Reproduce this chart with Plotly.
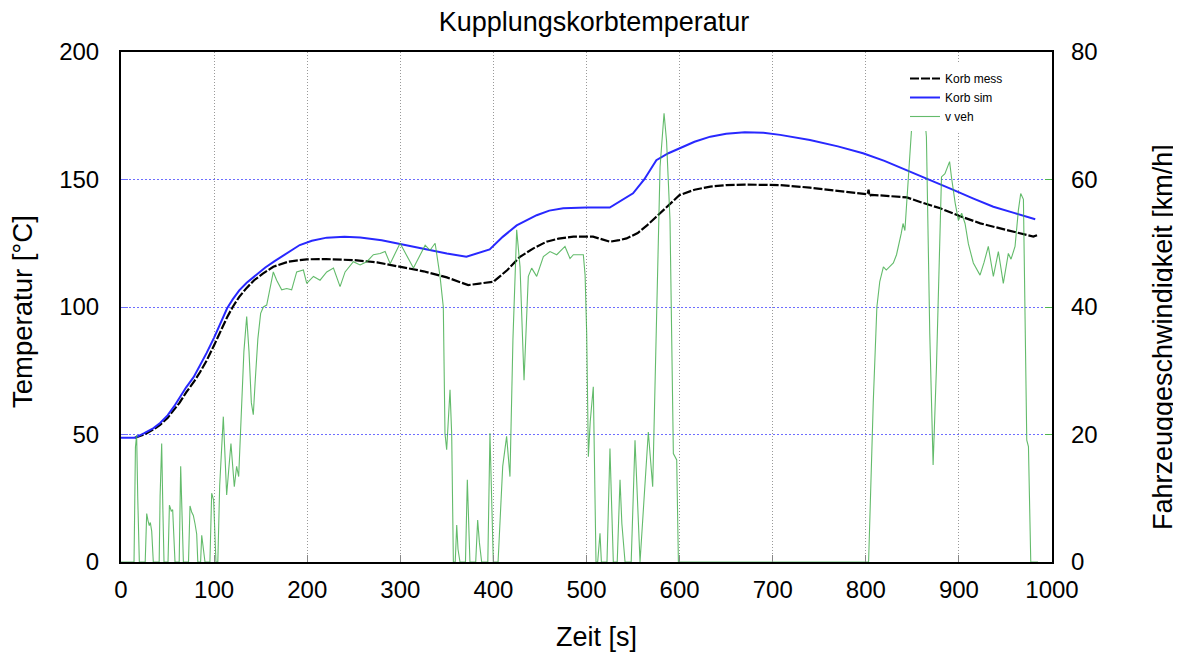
import plotly.graph_objects as go

# ---------------- data ----------------
t_sim = [0, 15, 25, 35, 42, 50, 57, 63, 70, 78, 85, 92, 100, 107, 114, 120, 127, 135,
         145, 155, 165, 178, 192, 205, 221, 240, 257, 280, 300, 325, 350, 371, 396,
         410, 425, 446.5, 460, 475, 500, 525, 550, 562, 575, 588, 600, 616, 633, 650,
         670, 690, 708, 740, 770, 797, 820, 844, 870, 894, 915, 937, 960, 982]
T_sim = [48.7, 48.7, 50.5, 52.5, 54.5, 57.5, 61, 64.5, 68.5, 72.5, 77, 82, 88, 93.5,
         99.5, 103, 106.5, 109.5, 112.5, 115.5, 118, 121, 124.3, 126, 127.2, 127.5,
         127.3, 126.2, 124.7, 122.9, 121, 119.7, 122.6, 127.5, 132, 136, 137.8, 138.7,
         139, 139, 144.6, 150, 157.6, 160.3, 162.2, 164.8, 166.8, 167.9, 168.5, 168.3,
         167.5, 165.5, 163, 160.3, 157.3, 153.7, 149.5, 145.9, 142.6, 139.3, 136.8, 134.4]

t_mess = [15, 25, 35, 42, 50, 57, 63, 70, 78, 85, 92, 100, 107, 114, 120, 127, 135, 143,
          152, 163.6, 180, 199.5, 220, 249.5, 275, 299.7, 325, 350, 373, 385, 400, 415,
          428.6, 443, 457, 470, 486, 507, 518, 525, 535, 543, 555, 565, 575, 588, 600,
          616, 633, 650, 670, 690, 708, 740, 770, 800, 802, 803, 804, 806, 844, 860, 880,
          900, 923, 950, 980, 985]
T_mess = [48.7, 50, 52, 53.8, 56.5, 59.5, 62.5, 66.5, 70.5, 74.5, 79, 85, 90.5, 96, 100,
          104, 107.5, 110.5, 113, 115.8, 117.8, 118.7, 118.8, 118.4, 117.5, 115.8, 114,
          111.6, 108.6, 109.2, 109.9, 114.5, 119.7, 123, 125.6, 126.8, 127.6, 127.6, 126.5,
          125.6, 126.2, 126.9, 129, 132, 135.4, 140, 143.9, 146, 147.2, 147.8, 148, 147.9,
          147.8, 146.8, 145.5, 144.2, 144.2, 146, 143.5, 144, 143, 141, 138.7, 135.8,
          132.8, 130.3, 127.6, 128.3]

t_veh = [0, 14, 15.5, 16.8, 18, 19.7, 26, 27.6, 29, 30.4, 31.5, 33, 34.7, 41, 42, 43.7, 45,
         46.2, 50.5, 52, 54, 55.5, 58, 62.5, 64.1, 65.5, 67, 72.5, 74.1, 76, 77.7, 79.5,
         81.3, 82.5, 85.5, 86.7, 88.5, 90.2, 95.5, 97.4, 99.5, 102, 104, 106, 109.9, 111.5,
         113.5, 116, 118.1, 121.7, 124.2, 126.4, 129, 132, 135, 137.5, 140, 142.1, 144, 147,
         150, 152.9, 156.5, 160, 163.6, 167.2, 172.6, 178, 183.3, 188.7, 195.9, 199.5,
         206.7, 213.8, 221, 228.2, 235.3, 240.7, 249.6, 256.8, 264, 271.1, 278.3, 283.7,
         289.1, 299.8, 314.1, 326.7, 331.9, 337.4, 342.7, 346.2, 348, 349.8, 353.4, 355.2,
         357, 359, 360.6, 362, 364.1, 370, 372, 374.8, 381, 383.1, 385, 387.4, 394, 396.3,
         398, 399.9, 405, 410, 414.2, 417.8, 421, 425, 428.6, 432.9, 437.5, 441.1, 446.5,
         453.7, 460.8, 468, 476.9, 482.3, 485.9, 496.6, 498.5, 500.2, 502, 504, 507.3,
         510.2, 512, 514.5, 516, 522, 525.2, 528.8, 533, 536, 538, 541.4, 548, 552.1, 557.5,
         562, 566.4, 571.1, 575.4, 579, 583.3, 586, 589.7, 593.3, 596.9, 598.7, 803, 808,
         811.9, 815, 818.9, 822, 829.6, 833, 838, 840, 842, 845.6, 848, 851, 862, 865.1,
         868.7, 872.3, 875.9, 879, 881.3, 885, 890, 892, 896, 899.5, 903, 906.6, 910.2,
         915.5, 922.7, 927, 931.6, 937, 942.4, 947.7, 953.1, 956, 960.3, 963.9, 966.4,
         969.3, 971.1, 972.9, 974.7, 977.2, 985]
v_veh = [0, 0, 18, 19.9, 10, 0, 0, 7.6, 6.5, 5.7, 6.2, 4.8, 0, 0, 10.3, 18.6, 8, 0, 0,
         8.9, 8.0, 8.2, 0, 0, 15, 8, 0, 0, 8.8, 7.8, 7.3, 6, 4.4, 0, 0, 4.2, 2, 0, 0, 10.8,
         9.7, 0, 0, 12, 22.8, 17, 10.5, 15, 18.6, 11.8, 15, 13.4, 22, 33, 38.5, 33, 25,
         23.1, 28, 35, 39, 40, 40.3, 43, 45.5, 44.2, 42.7, 42.9, 42.7, 45.5, 45.8, 43.7,
         44.8, 44.2, 45.5, 46.1, 43.2, 45.5, 47.1, 46.6, 47.1, 48.2, 48.4, 48.7, 46.8, 50,
         46.1, 49.7, 48.9, 50, 44.8, 40, 20.2, 17.6, 27, 20, 0, 0, 5.8, 2, 0, 0, 12.9, 0,
         0, 6.6, 3, 0, 0, 20.2, 8, 0, 0, 15, 19.7, 13.4, 35, 52.1, 46.3, 28.5, 44.8, 46.1,
         44.8, 47.9, 48.7, 48.2, 49.5, 47.6, 48.2, 48.2, 45, 35.9, 16.5, 22, 27.5, 0, 0,
         4.5, 0, 0, 17.8, 0, 0, 12.9, 6, 0, 0, 19.1, 0, 10, 20.4, 11.8, 40, 62, 70.4, 66,
         53.6, 17, 16, 0, 0, 25, 40, 44, 46.3, 45.8, 46.9, 48.2, 51.5, 53.1, 52, 60.4,
         66.7, 72, 72, 66.7, 35.9, 15.2, 30.6, 50, 60.4, 60.9, 62.8, 60.4, 56.3, 53.6,
         54.7, 53.1, 49.9, 46.9, 45, 47, 49.5, 44.8, 48.7, 43.7, 48.4, 47.5, 49.5, 55.2,
         57.8, 56.9, 41.1, 19.1, 18.1, 0, 0]

x_ticks = [0, 100, 200, 300, 400, 500, 600, 700, 800, 900, 1000]
y_ticks = [0, 50, 100, 150, 200]
y2_ticks = [0, 20, 40, 60, 80]

FONT = "Liberation Sans, Arial, sans-serif"
GRID_BLUE = "rgb(110,110,255)"

# the page places the figure 8 px from the top-left corner
W, H = 1173, 644
OFF = 8

fig = go.Figure()
fig.add_trace(go.Scatter(x=t_mess, y=T_mess, mode="lines", name="Korb mess",
                         line=dict(color="black", width=2.2, dash="9px,2px")))
fig.add_trace(go.Scatter(x=t_sim, y=T_sim, mode="lines", name="Korb sim",
                         line=dict(color="rgb(40,40,255)", width=2)))
fig.add_trace(go.Scatter(x=t_veh, y=v_veh, mode="lines", name="v veh", yaxis="y2",
                         line=dict(color="rgba(60,170,70,0.8)", width=1.1)))

fig.update_layout(
    width=W, height=H,
    margin=dict(l=121 - OFF, r=W - (1052 - OFF), t=52 - OFF, b=H - (562 - OFF)),
    paper_bgcolor="white", plot_bgcolor="white",
    font=dict(family=FONT, color="black", size=24),
    title=dict(text="Kupplungskorbtemperatur", font=dict(size=27, family=FONT),
               xref="container", yref="container", x=(594 - OFF) / W,
               y=1 - (22 - OFF) / H, xanchor="center", yanchor="middle"),
    showlegend=True,
    legend=dict(x=(905 - 121) / 931, y=1 - (64 - 52) / 510, xanchor="left",
                yanchor="top", bgcolor="white", borderwidth=0,
                font=dict(size=12, family=FONT), tracegroupgap=0),
    xaxis=dict(range=[0, 1000], tickvals=x_ticks, ticks="inside", ticklen=7,
               tickcolor="#888", showgrid=True, gridcolor="#999", griddash="1px,2px",
               gridwidth=1, showline=True, mirror=True, linecolor="black", linewidth=2,
               zeroline=False, tickfont=dict(size=24), ticklabelstandoff=5),
    yaxis=dict(range=[0, 200], tickvals=y_ticks, ticks="inside", ticklen=7,
               tickcolor=GRID_BLUE, showgrid=True, gridcolor=GRID_BLUE,
               griddash="2px,2px", gridwidth=1, showline=True, mirror=True,
               linecolor="black", linewidth=2, zeroline=False,
               tickfont=dict(size=24), ticklabelstandoff=15),
    yaxis2=dict(range=[0, 80], tickvals=y2_ticks, overlaying="y", side="right",
                ticks="inside", ticklen=7, tickcolor="rgb(80,180,80)", showgrid=False,
                zeroline=False, showline=False, tickfont=dict(size=24),
                ticklabelstandoff=18),
    annotations=[
        dict(text="Zeit [s]", xref="paper", yref="paper",
             x=(596 - 121) / 931, y=-(637 - 562) / 510, showarrow=False,
             xanchor="center", yanchor="middle", font=dict(size=27)),
        dict(text="Temperatur [°C]", xref="paper", yref="paper",
             x=-(121 - 22) / 931, y=1 - (312 - 52) / 510, showarrow=False,
             textangle=-90, xanchor="center", yanchor="middle", font=dict(size=27.5)),
        dict(text="Fahrzeuggeschwindigkeit [km/h]", xref="paper", yref="paper",
             x=(1163 - 121) / 931, y=1 - (337 - 52) / 510, showarrow=False,
             textangle=-90, xanchor="center", yanchor="middle", font=dict(size=27)),
    ],
)

fig.write_html("out.html")
